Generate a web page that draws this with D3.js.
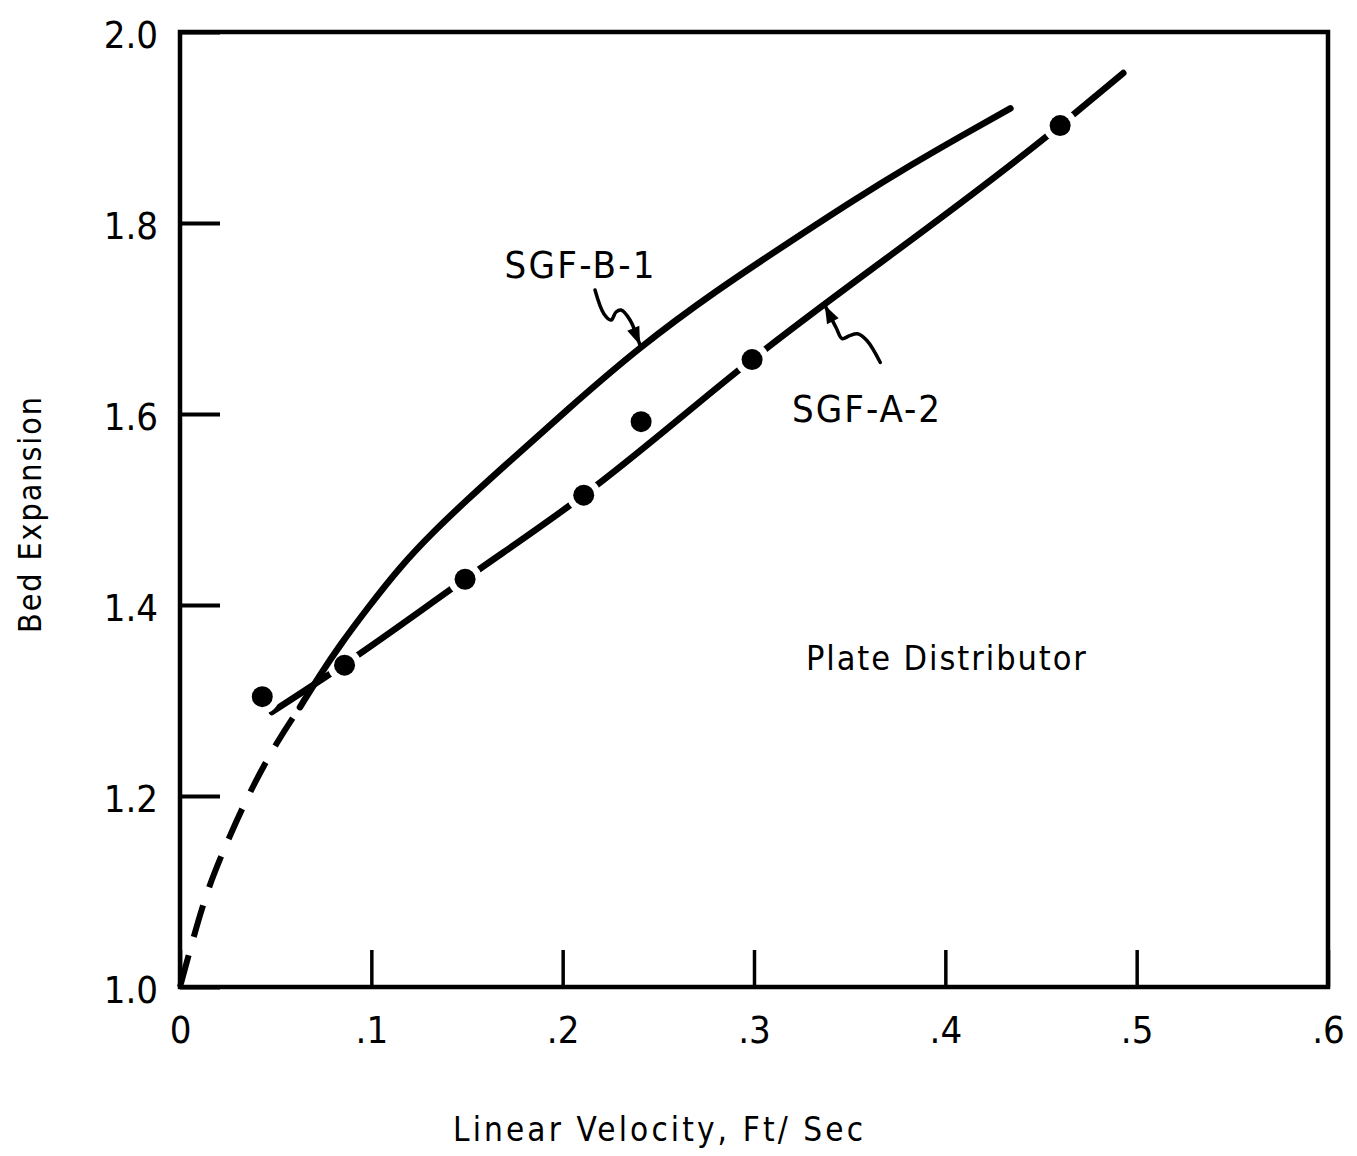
<!DOCTYPE html>
<html>
<head>
<meta charset="utf-8">
<script src="https://cdn.jsdelivr.net/npm/d3@7"></script>
<style>
  body { margin: 0; background: #fff; }
  svg { display: block; background: #fff; }
  text { font-family: "DejaVu Sans Condensed", "DejaVu Sans", sans-serif; fill: #000; }
</style>
</head>
<body>
<svg id="chart" width="1357" height="1156"></svg>
<script>
// measured points, SGF-A-2
const velA2 = [0.043, 0.086, 0.149, 0.211, 0.241, 0.299, 0.460];
const expA2 = [1.304, 1.337, 1.427, 1.515, 1.592, 1.657, 1.902];

// drawn line through SGF-A-2
const fitVelA2 = [0.048, 0.086, 0.149, 0.211, 0.299, 0.460, 0.493];
const fitExpA2 = [1.288, 1.338, 1.427, 1.515, 1.657, 1.902, 1.957];

// SGF-B-1 curve (dashed below the break velocity)
const velB1 = [0, 0.0073, 0.0146, 0.0261, 0.0376, 0.0507, 0.0627, 0.0732, 0.0836, 0.0977,
  0.115, 0.132, 0.150, 0.167, 0.202, 0.240, 0.280, 0.320, 0.352, 0.383, 0.409, 0.434];
const expB1 = [1.0, 1.054, 1.104, 1.159, 1.209, 1.257, 1.293, 1.327, 1.358, 1.396,
  1.440, 1.476, 1.510, 1.541, 1.604, 1.670, 1.729, 1.782, 1.824, 1.862, 1.892, 1.920];
const dashedUntil = 0.0627;

const xTicks = [0, 0.1, 0.2, 0.3, 0.4, 0.5, 0.6];
const yTicks = [1.0, 1.2, 1.4, 1.6, 1.8, 2.0];

// squiggly pointer arrows (data units)
const arrowB1 = [[0.2169, 1.7298], [0.2216, 1.7047], [0.2253, 1.6984], [0.2279, 1.7068],
  [0.2305, 1.7089], [0.2352, 1.6984], [0.2404, 1.6723]];
const arrowA2 = [[0.366, 1.654], [0.359, 1.677], [0.354, 1.684], [0.350, 1.682],
  [0.346, 1.679], [0.343, 1.690], [0.337, 1.714]];

const margin = { top: 32, right: 29, bottom: 169, left: 180 };
const svg = d3.select("#chart");
const width = +svg.attr("width") - margin.left - margin.right;
const height = +svg.attr("height") - margin.top - margin.bottom;

const chart = svg.append("g")
  .attr("transform", `translate(${margin.left},${margin.top})`);

const x = d3.scaleLinear().domain([0, 0.6]).range([0, width]);
const y = d3.scaleLinear().domain([1.0, 2.0]).range([height, 0]);

// axes with inward ticks
const yAxis = chart.append("g")
  .call(d3.axisLeft(y).tickValues(yTicks).tickSizeInner(-40).tickSizeOuter(0)
    .tickPadding(22).tickFormat(d3.format(".1f")));
yAxis.select(".domain").remove();
yAxis.selectAll("line").attr("stroke", "#000").attr("stroke-width", 4);
yAxis.selectAll("text").attr("font-size", 38).attr("dy", "0.42em")
  .style("font-family", "'DejaVu Sans Condensed', 'DejaVu Sans', sans-serif");

const xAxis = chart.append("g")
  .attr("transform", `translate(0,${height})`)
  .call(d3.axisBottom(x).tickValues(xTicks).tickSizeInner(-37).tickSizeOuter(0)
    .tickPadding(29).tickFormat(d => d === 0 ? "0" : d3.format(".1f")(d).replace("0.", ".")));
xAxis.select(".domain").remove();
xAxis.selectAll("line").attr("stroke", "#000").attr("stroke-width", 3.5);
xAxis.selectAll("text").attr("font-size", 38)
  .style("font-family", "'DejaVu Sans Condensed', 'DejaVu Sans', sans-serif");

// frame
chart.append("rect")
  .attr("x", 0).attr("y", 0)
  .attr("width", width).attr("height", height)
  .attr("fill", "none")
  .attr("stroke", "#000")
  .attr("stroke-width", 4.5);

const line = d3.line()
  .x(d => x(d[0]))
  .y(d => y(d[1]))
  .curve(d3.curveMonotoneX);

// hand-drawn curve, smoothed
const smooth = d3.line()
  .x(d => x(d[0]))
  .y(d => y(d[1]))
  .curve(d3.curveBasis);

// SGF-A-2 line, broken around the points
chart.append("path")
  .datum(fitVelA2.map((v, i) => [v, fitExpA2[i]]))
  .attr("d", line)
  .attr("fill", "none")
  .attr("stroke", "#000")
  .attr("stroke-width", 6.5)
  .attr("stroke-linecap", "round");

const pointsA2 = velA2.map((v, i) => [v, expA2[i]]);
chart.selectAll(".halo")
  .data(pointsA2)
  .join("circle")
  .attr("class", "halo")
  .attr("cx", d => x(d[0]))
  .attr("cy", d => y(d[1]))
  .attr("r", 17)
  .attr("fill", "#fff");

// SGF-B-1
const b1 = velB1.map((v, i) => [v, expB1[i]]);
chart.append("path")
  .datum(b1.filter(d => d[0] <= dashedUntil))
  .attr("d", smooth)
  .attr("fill", "none")
  .attr("stroke", "#000")
  .attr("stroke-width", 6)
  .attr("stroke-dasharray", "33,19");

chart.append("path")
  .datum(b1.filter(d => d[0] >= dashedUntil))
  .attr("d", smooth)
  .attr("fill", "none")
  .attr("stroke", "#000")
  .attr("stroke-width", 6.5)
  .attr("stroke-linecap", "round");

chart.selectAll(".dot")
  .data(pointsA2)
  .join("circle")
  .attr("class", "dot")
  .attr("cx", d => x(d[0]))
  .attr("cy", d => y(d[1]))
  .attr("r", 10.5)
  .attr("fill", "#000");

// pointer arrows
const pointer = d3.line()
  .x(d => x(d[0]))
  .y(d => y(d[1]))
  .curve(d3.curveCatmullRom);

[arrowB1, arrowA2].forEach(pts => {
  chart.append("path")
    .datum(pts)
    .attr("d", pointer)
    .attr("fill", "none")
    .attr("stroke", "#000")
    .attr("stroke-width", 3.5)
    .attr("stroke-linecap", "round");
  const a = pts[pts.length - 2], b = pts[pts.length - 1];
  const ang = Math.atan2(y(b[1]) - y(a[1]), x(b[0]) - x(a[0])) * 180 / Math.PI;
  chart.append("path")
    .attr("d", "M0,0 L-18,-6.5 L-18,6.5 Z")
    .attr("fill", "#000")
    .attr("transform", `translate(${x(b[0])},${y(b[1])}) rotate(${ang})`);
});

// labels
chart.append("text")
  .attr("x", x(0.2088)).attr("y", y(1.742))
  .attr("text-anchor", "middle")
  .attr("font-size", 38)
  .attr("textLength", 150).attr("lengthAdjust", "spacing")
  .text("SGF-B-1");

chart.append("text")
  .attr("x", x(0.3586)).attr("y", y(1.592))
  .attr("text-anchor", "middle")
  .attr("font-size", 38)
  .attr("textLength", 148).attr("lengthAdjust", "spacing")
  .text("SGF-A-2");

chart.append("text")
  .attr("x", x(0.4003)).attr("y", y(1.332))
  .attr("text-anchor", "middle")
  .attr("font-size", 34)
  .attr("textLength", 280).attr("lengthAdjust", "spacing")
  .text("Plate Distributor");

svg.append("text")
  .attr("x", 658).attr("y", 1141)
  .attr("text-anchor", "middle")
  .attr("font-size", 33)
  .attr("textLength", 410).attr("lengthAdjust", "spacing")
  .text("Linear Velocity,  Ft/ Sec");

svg.append("text")
  .attr("transform", "translate(41,515) rotate(-90)")
  .attr("text-anchor", "middle")
  .attr("font-size", 32)
  .attr("textLength", 236).attr("lengthAdjust", "spacing")
  .text("Bed Expansion");
</script>
</body>
</html>
